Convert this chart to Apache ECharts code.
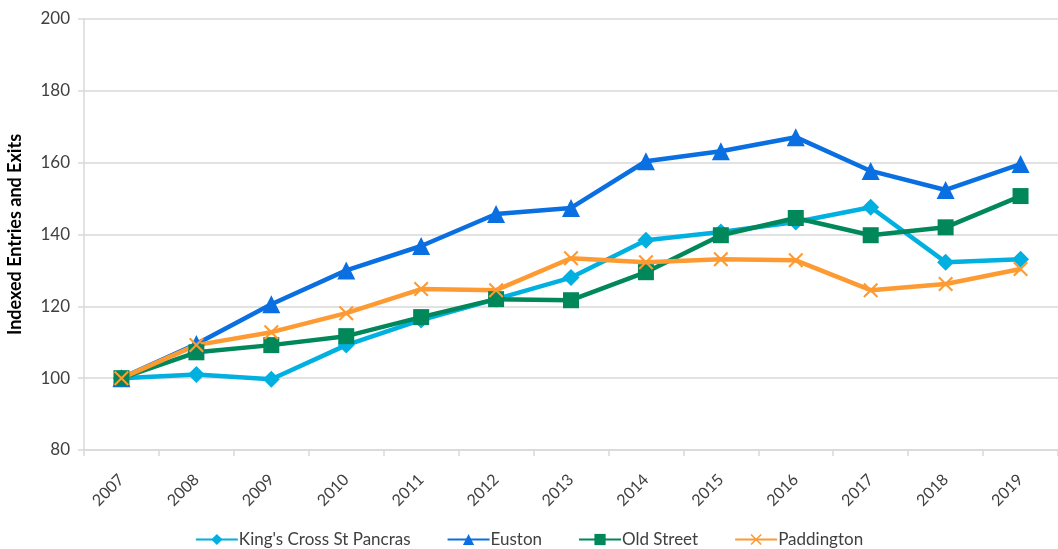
<!DOCTYPE html>
<html>
<head>
<meta charset="utf-8">
<script src="https://cdn.jsdelivr.net/npm/echarts@6/dist/echarts.min.js"></script>
<style>
  html, body { margin: 0; padding: 0; background: #fff; }
  #chart { width: 1058px; height: 549px; }
</style>
</head>
<body>
<div id="chart"></div>
<script>
// Station usage, indexed to 2007 = 100
const years = ['2007','2008','2009','2010','2011','2012','2013','2014','2015','2016','2017','2018','2019'];
const kingsCross = [100, 101, 99.7, 109.2, 116.2, 122, 128, 138.4, 140.7, 143.5, 147.6, 132.3, 133.1];
const euston     = [100, 109.5, 120.6, 130, 136.8, 145.7, 147.4, 160.4, 163.2, 167.1, 157.7, 152.4, 159.6];
const oldStreet  = [100, 107.2, 109.2, 111.7, 117, 122, 121.7, 129.5, 139.8, 144.6, 139.8, 142, 150.7];
const paddington = [100, 109.2, 112.8, 118.1, 124.8, 124.5, 133.4, 132.3, 133.1, 132.8, 124.5, 126.2, 130.4];

const FONT = 'Lato, "Open Sans", sans-serif';
const crossPath = 'path://M0,1L1,0L5,4L9,0L10,1L6,5L10,9L9,10L5,6L1,10L0,9L4,5Z';

function lineSeries(name, data, color, symbol, size) {
  return {
    name, type: 'line', data,
    symbol, symbolSize: size,
    lineStyle: { width: 4.5, color },
    itemStyle: { color },
    emphasis: { disabled: true },
    z: 2
  };
}

const chart = echarts.init(document.getElementById('chart'));
chart.setOption({
  animation: false,
  textStyle: { fontFamily: FONT },
  grid: { left: 84, right: 0, top: 19, bottom: 99, containLabel: false, outerBoundsMode: 'none' },
  legend: {
    bottom: -4,
    left: 'center',
    itemGap: 36,
    itemWidth: 42,
    itemHeight: 14,
    textStyle: { fontFamily: FONT, fontSize: 17, color: '#404040', padding: [0, 0, 0, -4] },
    data: ["King's Cross St Pancras", 'Euston', 'Old Street', 'Paddington']
  },
  xAxis: {
    type: 'category',
    data: years,
    boundaryGap: true,
    axisLine: { lineStyle: { color: '#d9d9d9', width: 1.5 } },
    axisTick: { show: true, length: 6, lineStyle: { color: '#d9d9d9', width: 1.5 } },
    axisLabel: {
      rotate: 45, margin: 27, fontSize: 16, color: '#404040', fontFamily: FONT
    },
    splitLine: { show: false }
  },
  yAxis: {
    type: 'value',
    min: 80, max: 200, interval: 20,
    name: 'Indexed Entries and Exits',
    nameLocation: 'middle',
    nameGap: 60,
    nameTextStyle: { fontSize: 18, fontWeight: 'bold', color: '#000', fontFamily: FONT },
    axisLine: { show: true, lineStyle: { color: '#d9d9d9', width: 1.5 } },
    axisTick: { show: true, length: 6, lineStyle: { color: '#d9d9d9', width: 1.5 } },
    axisLabel: { fontSize: 17, color: '#404040', margin: 14, fontFamily: FONT },
    splitLine: { lineStyle: { color: '#d9d9d9', width: 1.5 } }
  },
  series: [
    lineSeries("King's Cross St Pancras", kingsCross, '#00b0e0', 'diamond', 17),
    lineSeries('Euston', euston, '#0a6fe0', 'triangle', 18),
    lineSeries('Old Street', oldStreet, '#00875a', 'rect', 16),
    lineSeries('Paddington', paddington, '#fd9a32', crossPath, 15)
  ]
});
</script>
</body>
</html>
